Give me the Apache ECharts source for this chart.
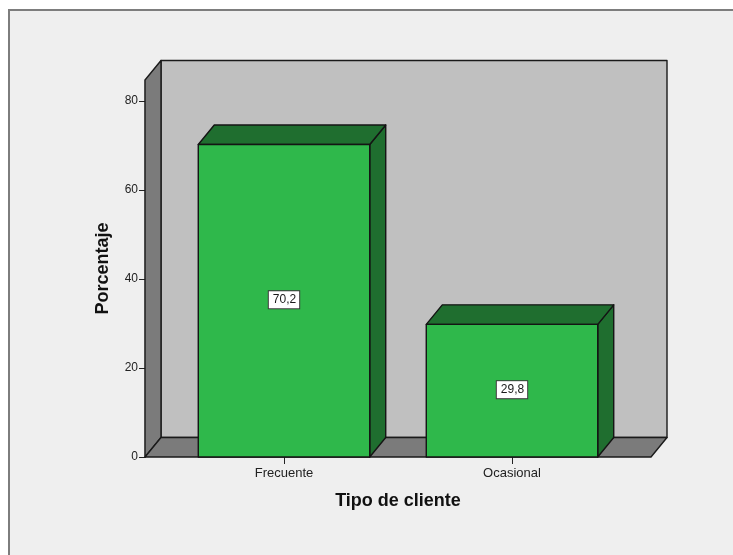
<!DOCTYPE html>
<html>
<head>
<meta charset="utf-8">
<script src="https://cdn.jsdelivr.net/npm/echarts@6/dist/echarts.min.js"></script>
<style>
  html, body { margin: 0; padding: 0; background: #ffffff; }
  #chart { width: 733px; height: 555px; }
</style>
</head>
<body>
<div id="chart"></div>
<script>
// Chart data
const categories = ['Frecuente', 'Ocasional'];
const percentages = [70.2, 29.8];
const yTicks = [0, 20, 40, 60, 80];
const yMax = 84.7;

// Oblique 3D projection: how far the back plane sits from the front plane
const DEPTH_X = 16;
const DEPTH_Y = -19.5;
// Distance the walls extend beyond the category band on each side
const WALL_PAD = 25;
// Fraction of the category band covered by a bar
const BAR_RATIO = 0.752;

const FONT = '"Liberation Sans", Arial, Helvetica, sans-serif';

function formatPct(v) {
  return v.toFixed(1).replace('.', ',');
}

// Back wall, left wall and floor of the 3D box
function renderFrame(params, api) {
  const cs = params.coordSys;
  const x0 = cs.x - WALL_PAD;
  const x1 = cs.x + cs.width + WALL_PAD;
  const yb = cs.y + cs.height;
  const yt = cs.y;
  const bx0 = x0 + DEPTH_X, bx1 = x1 + DEPTH_X;
  const byb = yb + DEPTH_Y, byt = yt + DEPTH_Y;
  const edge = { stroke: '#1a1a1a', lineWidth: 1.4, lineJoin: 'round' };
  return {
    type: 'group',
    children: [
      { type: 'polygon', shape: { points: [[bx0, byt], [bx1, byt], [bx1, byb], [bx0, byb]] },
        style: Object.assign({ fill: '#c0c0c0' }, edge) },
      { type: 'polygon', shape: { points: [[x0, yb], [x0, yt], [bx0, byt], [bx0, byb]] },
        style: Object.assign({ fill: '#7b7b7b' }, edge) },
      { type: 'polygon', shape: { points: [[x0, yb], [x1, yb], [bx1, byb], [bx0, byb]] },
        style: Object.assign({ fill: '#7b7b7b' }, edge) }
    ]
  };
}

// A 3D bar: front face, top face, right side face and a value label
function renderBar(params, api) {
  const idx = api.value(0);
  const val = api.value(1);
  const base = api.coord([idx, 0]);
  const top = api.coord([idx, val]);
  const hw = api.size([1, 0])[0] * BAR_RATIO / 2;
  const l = base[0] - hw, r = base[0] + hw;
  const yb = base[1], yt = top[1];
  const edge = { stroke: '#141414', lineWidth: 1.4, lineJoin: 'round' };
  return {
    type: 'group',
    children: [
      { type: 'polygon', shape: { points: [[r, yt], [r + DEPTH_X, yt + DEPTH_Y], [r + DEPTH_X, yb + DEPTH_Y], [r, yb]] },
        style: Object.assign({ fill: '#1f6e2f' }, edge) },
      { type: 'polygon', shape: { points: [[l, yt], [l + DEPTH_X, yt + DEPTH_Y], [r + DEPTH_X, yt + DEPTH_Y], [r, yt]] },
        style: Object.assign({ fill: '#1f6e2f' }, edge) },
      { type: 'rect', shape: { x: l, y: yt, width: r - l, height: yb - yt },
        style: Object.assign({ fill: '#2fb84b' }, edge) },
      { type: 'text', x: base[0], y: (yb + yt) / 2 - 1,
        style: {
          text: formatPct(val), fill: '#1a1a1a', font: '12px ' + FONT,
          align: 'center', verticalAlign: 'middle',
          backgroundColor: '#ffffff', borderColor: '#3a3a3a', borderWidth: 1,
          padding: [3, 3, 2, 4]
        } }
    ]
  };
}

const chart = echarts.init(document.getElementById('chart'), null, { renderer: 'canvas' });

chart.setOption({
  animation: false,
  backgroundColor: '#ffffff',
  graphic: [{
    type: 'rect', z: 0,
    shape: { x: 9, y: 10, width: 760, height: 580 },
    style: { fill: '#efefef', stroke: '#7d7d7d', lineWidth: 2 }
  }],
  grid: { left: 170, right: 107, top: 80, bottom: 98 },
  xAxis: {
    type: 'category',
    data: categories,
    axisLine: { show: false },
    axisTick: { show: true, alignWithLabel: true, length: 7, lineStyle: { color: '#222', width: 1 } },
    axisLabel: { color: '#222', fontSize: 13, fontFamily: FONT, margin: 10 },
    splitLine: { show: false },
    name: 'Tipo de cliente',
    nameLocation: 'middle',
    nameGap: 35,
    nameTextStyle: { color: '#111', fontSize: 18, fontWeight: 'bold', fontFamily: FONT }
  },
  yAxis: {
    type: 'value',
    min: 0,
    max: yMax,
    interval: 20,
    offset: WALL_PAD,
    axisLine: { show: true, lineStyle: { color: '#1a1a1a', width: 1.4 } },
    axisTick: { show: true, customValues: yTicks, length: 6, lineStyle: { color: '#222', width: 1 } },
    axisLabel: { customValues: yTicks, color: '#222', fontSize: 12, fontFamily: FONT, margin: 7 },
    splitLine: { show: false },
    name: 'Porcentaje',
    nameLocation: 'middle',
    nameGap: 33,
    nameTextStyle: { color: '#111', fontSize: 18, fontWeight: 'bold', fontFamily: FONT }
  },
  series: [
    {
      type: 'custom',
      z: 1,
      clip: false,
      silent: true,
      renderItem: renderFrame,
      data: [[0, 0]]
    },
    {
      type: 'custom',
      z: 2,
      clip: false,
      renderItem: renderBar,
      data: percentages.map((v, i) => [i, v])
    }
  ]
});
</script>
</body>
</html>
